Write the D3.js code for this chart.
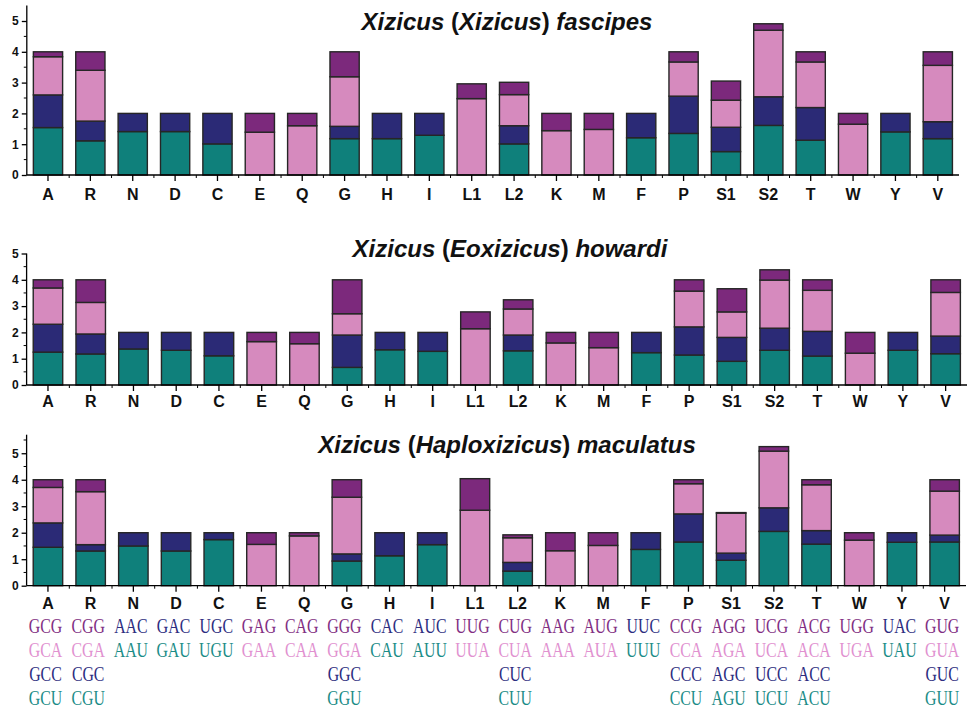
<!DOCTYPE html>
<html><head><meta charset="utf-8">
<script src="https://cdn.jsdelivr.net/npm/d3@7"></script>
<style>body{margin:0;background:#fff}svg{display:block}</style>
</head><body><svg id="c" width="968" height="709"></svg>
<script>
const categories = ["A","R","N","D","C","E","Q","G","H","I","L1","L2","K","M","F","P","S1","S2","T","W","Y","V"];
const codons = [
 ["GCG","GCA","GCC","GCU"],["CGG","CGA","CGC","CGU"],["AAC","AAU"],["GAC","GAU"],["UGC","UGU"],
 ["GAG","GAA"],["CAG","CAA"],["GGG","GGA","GGC","GGU"],["CAC","CAU"],["AUC","AUU"],["UUG","UUA"],
 ["CUG","CUA","CUC","CUU"],["AAG","AAA"],["AUG","AUA"],["UUC","UUU"],["CCG","CCA","CCC","CCU"],
 ["AGG","AGA","AGC","AGU"],["UCG","UCA","UCC","UCU"],["ACG","ACA","ACC","ACU"],["UGG","UGA"],
 ["UAC","UAU"],["GUG","GUA","GUC","GUU"]];
const yTicks = [0,1,2,3,4,5];
const series = ["U","C","A","G"];

// Xizicus (Xizicus) fascipes
const fascipesU = [1.54,1.11,1.41,1.41,1.01,0,0,1.18,1.18,1.29,0,1.01,0,0,1.21,1.35,0.76,1.61,1.13,0,1.40,1.18];
const fascipesC = [1.06,0.64,0.59,0.59,0.99,0,0,0.40,0.82,0.71,0,0.59,0,0,0.79,1.21,0.79,0.93,1.06,0,0.60,0.55];
const fascipesA = [1.24,1.65,0,0,0,1.39,1.60,1.61,0,0,2.48,1.01,1.44,1.48,0,1.11,0.88,2.16,1.48,1.65,0,1.83];
const fascipesG = [0.16,0.60,0,0,0,0.61,0.40,0.81,0,0,0.48,0.40,0.56,0.52,0,0.33,0.62,0.21,0.33,0.35,0,0.44];
// Xizicus (Eoxizicus) howardi
const howardiU = [1.25,1.18,1.37,1.32,1.11,0,0,0.67,1.34,1.28,0,1.30,0,0,1.23,1.14,0.90,1.32,1.10,0,1.32,1.19];
const howardiC = [1.06,0.76,0.63,0.68,0.89,0,0,1.23,0.66,0.72,0,0.60,0,0,0.77,1.07,0.91,0.84,0.94,0,0.68,0.67];
const howardiA = [1.38,1.20,0,0,0,1.65,1.57,0.81,0,0,2.14,0.99,1.60,1.42,0,1.36,0.97,1.83,1.56,1.21,0,1.66];
const howardiG = [0.31,0.86,0,0,0,0.35,0.43,1.29,0,0,0.64,0.35,0.40,0.58,0,0.43,0.88,0.39,0.40,0.79,0,0.48];
// Xizicus (Haploxizicus) maculatus
const maculatusU = [1.45,1.31,1.50,1.31,1.74,0,0,0.93,1.13,1.55,0,0.55,0,0,1.37,1.65,0.96,2.05,1.57,0,1.64,1.65];
const maculatusC = [0.92,0.24,0.50,0.69,0.26,0,0,0.27,0.87,0.45,0,0.33,0,0,0.63,1.06,0.27,0.89,0.51,0,0.36,0.26];
const maculatusA = [1.34,2.00,0,0,0,1.56,1.88,2.14,0,0,2.85,0.93,1.32,1.52,0,1.14,1.51,2.14,1.73,1.72,0,1.66];
const maculatusG = [0.29,0.45,0,0,0,0.44,0.12,0.66,0,0,1.19,0.11,0.68,0.48,0,0.15,0.02,0.17,0.19,0.28,0,0.43];

const barColor = {U:"#0f807b", C:"#2b2a76", A:"#d68abe", G:"#7c297c"};
const textColor = {U:"#1b8c87", C:"#2d2d80", A:"#e191d0", G:"#822f83"};

const svg = d3.select("#c");

const panels = [
  {genus:"Xizicus", sub:"Xizicus", sp:"fascipes", U:fascipesU, C:fascipesC, A:fascipesA, G:fascipesG,
   xr:[26.8,959], y0:175, yTop:5.6, dmax:5.5, tx:507, ty:30, lab:24},
  {genus:"Xizicus", sub:"Eoxizicus", sp:"howardi", U:howardiU, C:howardiC, A:howardiA, G:howardiG,
   xr:[26.6,967], y0:385, yTop:253.5, dmax:5, tx:510, ty:257, lab:21},
  {genus:"Xizicus", sub:"Haploxizicus", sp:"maculatus", U:maculatusU, C:maculatusC, A:maculatusA, G:maculatusG,
   xr:[26.6,966], y0:585.7, yTop:434.7, dmax:5.7, tx:507, ty:453, lab:21.5}
];

let lastX = null;
panels.forEach(p => {
  const g = svg.append("g");
  const x = d3.scaleBand().domain(categories).range(p.xr).paddingInner(0.31).paddingOuter(0.155);
  const y = d3.scaleLinear().domain([0, p.dmax]).range([p.y0, p.yTop]);
  lastX = x;
  const rows = categories.map((c, i) => {
    const o = {cat:c}; series.forEach(s => o[s] = p[s][i]); return o;
  });
  const stack = d3.stack().keys(series)(rows);
  stack.forEach(layer => {
    g.append("g").selectAll("rect").data(layer.filter(d => d[1] - d[0] > 0)).join("rect")
      .attr("x", d => x(d.data.cat)).attr("width", x.bandwidth())
      .attr("y", d => y(d[1])).attr("height", d => y(d[0]) - y(d[1]))
      .attr("fill", barColor[layer.key]).attr("stroke", "#262626").attr("stroke-width", 1.4);
  });
  // y axis
  const ya = g.append("g").attr("transform", `translate(${p.xr[0]},0)`)
    .call(d3.axisLeft(y).tickValues(yTicks).tickFormat(d3.format("d")).tickSize(5).tickPadding(3));
  ya.select(".domain").attr("d", `M0,${p.y0}V${p.yTop}`);
  ya.selectAll("text").attr("font-family", "Liberation Sans, Arial, sans-serif").attr("font-size", 12).attr("font-weight", "bold").attr("fill", "#111");
  const minorY = d3.range(0.5, p.dmax, 1);
  ya.selectAll(".mt").data(minorY).join("line").attr("class","mt")
    .attr("x1", 0).attr("x2", -3).attr("y1", d => y(d)).attr("y2", d => y(d)).attr("stroke", "#000");
  // x axis
  const xa = g.append("g").attr("transform", `translate(0,${p.y0})`)
    .call(d3.axisBottom(x).tickSize(6).tickPadding(p.lab - 16));
  xa.select(".domain").attr("d", `M${p.xr[0]},0H${p.xr[1]}`);
  xa.selectAll("text").attr("font-family", "Liberation Sans, Arial, sans-serif").attr("font-size", 16).attr("font-weight", "bold").attr("fill", "#111").attr("dy", "0.71em");
  const bounds = categories.slice(1).map(c => x(c) - x.step() * x.paddingInner() / 2);
  xa.selectAll(".mx").data(bounds).join("line").attr("class","mx")
    .attr("x1", d => d).attr("x2", d => d).attr("y1", 0).attr("y2", 3).attr("stroke", "#000");
  svg.selectAll("path.domain, .tick line").attr("stroke-width", 1.3);
  // title
  const t = g.append("text").attr("x", p.tx).attr("y", p.ty).attr("text-anchor", "middle")
    .attr("font-family", "Liberation Sans, Arial, sans-serif").attr("font-size", 24).attr("font-weight", "bold").attr("fill", "#111");
  t.append("tspan").attr("font-style", "italic").text(p.genus + " ");
  t.append("tspan").text("(");
  t.append("tspan").attr("font-style", "italic").text(p.sub);
  t.append("tspan").text(") ");
  t.append("tspan").attr("font-style", "italic").text(p.sp);
});

// codon table
const rowY = [632.5, 656.5, 681, 704.5];
const ct = svg.append("g");
categories.forEach((c, i) => {
  codons[i].forEach((cd, j) => {
    const cx = lastX(c) + lastX.bandwidth() / 2 - 2.5;
    ct.append("text").attr("transform", `translate(${cx},${rowY[j]}) scale(0.72,1)`)
      .attr("text-anchor", "middle").attr("font-family", "Liberation Serif, Times New Roman, serif")
      .attr("font-size", 22).attr("fill", textColor[cd[2]]).text(cd);
  });
});
</script></body></html>
